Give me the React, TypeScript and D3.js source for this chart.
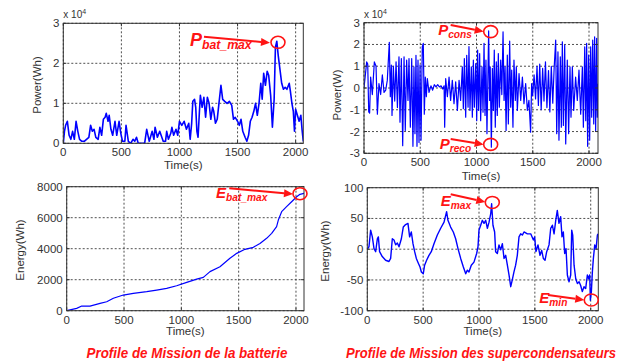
import * as d3 from "d3";

// Battery power (x 10^4 Wh) vs time (s)
const batPowerTime = [
  0, 10, 20, 35, 50, 65, 80, 95, 110, 125, 140, 160, 180, 200, 220, 235, 250, 265, 280, 300,
  315, 330, 345, 360, 370, 385, 395, 410, 425, 445, 460, 480, 495, 510, 530, 540, 560, 580, 600, 615,
  630, 645, 700, 718, 740, 765, 780, 790, 810, 830, 860, 880, 890, 905, 925, 935, 950, 970, 985, 1000,
  1020, 1040, 1060, 1080, 1092, 1105, 1115, 1130, 1140, 1150, 1160, 1172, 1180, 1195, 1210, 1225, 1240, 1255, 1270, 1285,
  1295, 1310, 1325, 1340, 1357, 1372, 1390, 1410, 1430, 1450, 1465, 1480, 1500, 1515, 1530, 1545, 1565, 1580, 1595, 1610,
  1625, 1640, 1655, 1670, 1685, 1700, 1712, 1725, 1740, 1755, 1768, 1785, 1800, 1815, 1826, 1838, 1850, 1865, 1880, 1895,
  1910, 1925, 1945, 1955, 1968, 1980, 1990, 2000, 2015, 2030, 2045, 2055, 2066,
];
const batPower = [
  0, 0.3, 0.45, 0.55, 0.2, 0.1, 0.3, 0.1, 0.55, 0.3, 0.1, 0.05, 0.05, 0.1, 0.15, 0.45, 0.3, 0.35, 0.15, 0.1,
  0.4, 0.2, 0.6, 0.65, 0.75, 0.55, 0.7, 0.35, 0.2, 0.55, 0.2, 0.55, 0.25, 0.05, 0.05, 0.45, 0.05, 0, 0.1, 0.05,
  0.15, 0, 0, 0.35, 0.05, 0.3, 0.1, 0.4, 0.15, 0.3, 0.05, 0.05, 0.3, 0.1, 0.25, 0.4, 0.2, 0.35, 0.2, 0.55,
  0.45, 0.55, 0.35, 0.5, 0.1, 0.5, 1.05, 1.1, 0.9, 0.3, 0.15, 0.8, 1.2, 0.9, 1.15, 0.65, 1.15, 1.0, 0.6, 0.9,
  0.8, 0.5, 0.6, 1.0, 1.45, 1.1, 1.05, 1.0, 1.05, 0.95, 0.6, 0.65, 0.55, 0.45, 0.6, 0.3, 0.15, 0.05, 0.2, 0.55,
  0.65, 0.8, 1.0, 0.7, 1.0, 1.5, 1.1, 1.75, 1.45, 1.8, 1.7, 1.2, 0.4, 1.1, 2.4, 2.55, 2.2, 1.85, 1.5, 1.35,
  1.4, 1.35, 1.5, 1.3, 1.0, 0.8, 0.3, 0.85, 0.7, 0.55, 0.7, 0.35, 0.05,
];

// Supercapacitor power (x 10^4 W) vs time (s)
const scPowerTime = [
  0, 10, 24, 33, 42, 50, 59, 74, 92, 107, 119, 133, 148, 163, 178, 193, 207, 225, 234, 243,
  249, 261, 273, 285, 297, 311, 320, 332, 344, 356, 367, 379, 391, 400, 412, 424, 435, 444, 453, 462,
  471, 480, 489, 498, 507, 518, 527, 536, 545, 554, 563, 578, 595, 610, 625, 640, 655, 670, 685, 700,
  712, 717, 726, 741, 756, 770, 785, 800, 815, 830, 845, 859, 874, 883, 892, 904, 913, 925, 933, 942,
  954, 963, 972, 981, 993, 1002, 1010, 1019, 1028, 1037, 1049, 1058, 1067, 1076, 1084, 1093, 1108, 1116, 1122, 1132,
  1141, 1150, 1158, 1167, 1176, 1185, 1194, 1203, 1215, 1225, 1236, 1245, 1254, 1263, 1274, 1283, 1295, 1304, 1313, 1324,
  1333, 1345, 1354, 1363, 1378, 1393, 1408, 1422, 1437, 1452, 1466, 1481, 1490, 1499, 1512, 1525, 1538, 1550, 1562, 1575,
  1588, 1600, 1613, 1626, 1640, 1652, 1665, 1678, 1690, 1704, 1713, 1724, 1733, 1745, 1754, 1763, 1772, 1784, 1793, 1807,
  1819, 1831, 1840, 1852, 1864, 1881, 1896, 1911, 1926, 1941, 1950, 1962, 1971, 1979, 1988, 1997, 2006, 2015, 2024, 2033,
  2042, 2050, 2059, 2068, 2074, 2080,
];
const scPower = [
  0, 0.5, 1.2, 1.1, -1.1, -1.15, 0.5, -0.3, 1.2, 1.0, -1.2, 0.2, -0.3, 0.6, -0.2, -0.1, 0.35, 2.1, -0.4, 1.05,
  -1.26, 1.0, -0.6, 1.2, -0.9, 1.43, -1.57, 1.35, -2.65, 1.43, -1.95, 1.28, -0.57, 1.35, -1.8, 1.35, -2.68, 0.97, -2.1, 1.5,
  -2.68, 1.28, -2.5, 1.05, -2.4, 1.9, 2.05, -1.2, 0.5, -0.4, 0.43, -0.2, 0.1, -0.1, 0.15, 0.05, 0.15, 0.05, 0.1, -0.05,
  0.1, -1.8, 0.43, -0.4, 0.5, -0.57, 0.35, -0.72, 0.28, -1.03, 0.35, -0.57, 0.97, -0.95, 1.35, -1.34, 1.5, -0.88, 1.9, -1.03,
  0.97, -1.34, 1.28, -0.88, 1.12, -1.5, 1.74, -1.03, 1.58, -1.5, 0.97, -1.11, 2.05, -1.26, 1.28, -2.1, 2.62, -0.57, 0.97, -2.72,
  0.9, -1.03, 1.74, -1.8, 1.2, -1.26, 1.58, -0.88, 1.28, -0.3, 2.58, -0.57, 0.97, -1.95, 1.51, -1.65, 2.15, -0.88, 0.82, -1.8,
  1.28, -0.57, 0.97, -1.03, 0.66, -0.57, 0.5, -0.72, 0.2, -1.03, -0.57, -2.03, 0.2, -0.34, 0.6, -0.5, 1.0, -0.8, 1.1, -1.0,
  0.9, -0.6, 1.2, -0.9, 0.8, -1.1, 1.0, -0.7, 0.9, 2.2, -2.1, 1.66, -2.4, 1.43, -1.8, 2.12, -1.72, 1.97, -2.57, 1.28,
  -2.1, 0.97, -1.34, 0.97, -1.03, 0.5, -0.57, 0.82, -1.2, 0.97, -1.8, 1.89, -1.5, 2.05, -2.68, 1.51, -2.4, 1.89, -1.34, 2.2,
  -1.65, 2.35, -1.95, 2.28, -1.34, 0.2,
];

// Battery energy (Wh) vs time (s)
const batEnergyTime = [
  0, 87, 131, 203, 291, 349, 407, 494, 581, 698, 785, 872, 959, 1047, 1134, 1192, 1250, 1337, 1424, 1483,
  1555, 1628, 1686, 1744, 1788, 1831, 1846, 1875, 1918, 1962, 2006, 2035, 2070,
];
const batEnergy = [
  0, 150, 300, 300, 470, 580, 800, 1010, 1120, 1230, 1330, 1440, 1610, 1830, 2040, 2150, 2520, 2840, 3380, 3700,
  3960, 4090, 4340, 4670, 4990, 5420, 5850, 6390, 6710, 7030, 7350, 7510, 7570,
];

// Supercapacitor energy (Wh) vs time (s)
const scEnergyTime = [
  0, 15, 30, 45, 60, 75, 90, 99, 110, 134, 164, 194, 209, 224, 239, 254, 269, 284, 305, 322,
  343, 364, 379, 394, 409, 424, 439, 455, 472, 484, 501, 513, 531, 552, 573, 597, 627, 657, 687, 710,
  722, 746, 770, 791, 812, 836, 860, 881, 896, 910, 931, 955, 979, 991, 1000, 1015, 1030, 1045, 1060, 1075,
  1090, 1105, 1113, 1125, 1140, 1149, 1164, 1179, 1194, 1209, 1224, 1239, 1254, 1269, 1284, 1298, 1313, 1328, 1343, 1358,
  1373, 1388, 1403, 1433, 1463, 1487, 1498, 1510, 1528, 1546, 1561, 1576, 1591, 1606, 1627, 1642, 1657, 1672, 1687, 1701,
  1716, 1731, 1743, 1755, 1767, 1779, 1791, 1806, 1821, 1830, 1839, 1851, 1866, 1881, 1896, 1910, 1925, 1940, 1955, 1970,
  1982, 1991, 1997, 2006, 2015, 2024, 2036, 2048, 2060, 2066,
];
const scEnergy = [
  0, 4, 31, 20, 1, -4, 17, 20, -4, -12, -18, -20, -15, 17, 15, 7, 10, 4, 17, 36,
  40, 42, 20, 28, 9, -4, -15, -22, -29, -37, -40, -26, -18, -10, -4, 9, 23, 34, 44, 61,
  47, 36, 28, 17, 1, -15, -29, -40, -34, -37, -26, -21, -7, 4, 31, 39, 47, 42, 47, 34,
  44, 58, 74, 39, 28, -4, -7, 7, -1, 9, -15, -10, -26, -42, -61, -50, -37, -26, -10, 20,
  25, 23, 28, 25, 25, 15, 20, -4, 7, -10, -2, -15, -18, -4, 7, 34, 39, 25, 47, 63,
  42, 53, 20, 28, -7, 1, -42, -53, -42, 31, 23, -26, -48, -56, -53, -59, -69, -61, -64, -42,
  -48, -42, -83, -69, -37, -15, 7, 1, 23, 25,
];

const xTicks = [0, 500, 1000, 1500, 2000];
const batPowerTicks = [0, 1, 2, 3];
const scPowerTicks = [-3, -2, -1, 0, 1, 2, 3];
const batEnergyTicks = [0, 2000, 4000, 6000, 8000];
const scEnergyTicks = [-100, -50, 0, 50, 100];

// annotated points: [time, value]
const pBatMax = [1848, 2.525];
const pCons = [1126, 2.59];
const pReco = [1126, -2.59];
const eBatMax = [2035, 7548];
const eMax = [1119, 76];
const eMin = [2005, -82.6];

const FONT = "'Liberation Sans', Arial, sans-serif";
const RED = "#ff1414";

type Box = { left: number; top: number; right: number; bottom: number };

type Note = {
  pt: number[];
  main: string;
  sub: string;
  size: number;
  tx: number;
  ty: number;
  ax: number;
  ay: number;
  bx: number;
  by: number;
};

type PanelProps = {
  box: Box;
  xMax: number;
  yTicks: number[];
  times: number[];
  values: number[];
  lineWidth: number;
  yLabel: string;
  yLabelX: number;
  yLabelY: number;
  timeY: number;
  exponent?: boolean;
  notes: Note[];
};

const Panel = ({ box, xMax, yTicks, times, values, lineWidth, yLabel, yLabelX, yLabelY, timeY, exponent, notes }: PanelProps) => {
  const x = d3.scaleLinear().domain([0, xMax]).range([box.left, box.right]);
  const y = d3
    .scaleLinear()
    .domain([yTicks[0], yTicks[yTicks.length - 1]])
    .range([box.bottom, box.top]);
  const line = d3
    .line<number>()
    .x((_, i) => x(times[i]))
    .y((d) => y(d));
  const clipId = `clip-${box.left}-${box.top}`;

  return (
    <g>
      <clipPath id={clipId}>
        <rect x={box.left} y={box.top} width={box.right - box.left} height={box.bottom - box.top} />
      </clipPath>
      {/* grid */}
      {xTicks.map((t) => (
        <line key={"gx" + t} x1={x(t)} x2={x(t)} y1={box.top} y2={box.bottom} stroke="#222" strokeWidth={0.8} strokeDasharray="2,2" />
      ))}
      {yTicks.map((t) => (
        <line key={"gy" + t} x1={box.left} x2={box.right} y1={y(t)} y2={y(t)} stroke="#222" strokeWidth={0.8} strokeDasharray="2,2" />
      ))}
      <path d={line(values) ?? ""} fill="none" stroke="#0000ff" strokeWidth={lineWidth} strokeLinejoin="round" clipPath={`url(#${clipId})`} />
      <rect x={box.left} y={box.top} width={box.right - box.left} height={box.bottom - box.top} fill="none" stroke="#333" strokeWidth={1} />
      {/* inward ticks */}
      {xTicks.map((t) => (
        <g key={"tx" + t}>
          <line x1={x(t)} x2={x(t)} y1={box.bottom} y2={box.bottom - 3} stroke="#333" />
          <line x1={x(t)} x2={x(t)} y1={box.top} y2={box.top + 3} stroke="#333" />
          <text x={x(t)} y={box.bottom + 13} textAnchor="middle" fontSize={11.5} fill="#333" fontFamily={FONT}>
            {t}
          </text>
        </g>
      ))}
      {yTicks.map((t) => (
        <g key={"ty" + t}>
          <line x1={box.left} x2={box.left + 3} y1={y(t)} y2={y(t)} stroke="#333" />
          <line x1={box.right} x2={box.right - 3} y1={y(t)} y2={y(t)} stroke="#333" />
          <text x={box.left - 4} y={y(t) + 4} textAnchor="end" fontSize={11.5} fill="#333" fontFamily={FONT}>
            {t}
          </text>
        </g>
      ))}
      {exponent && (
        <text x={box.left} y={box.top - 5} fontSize={10} fill="#333" fontFamily={FONT}>
          x 10
          <tspan fontSize={7} dy={-4}>
            4
          </tspan>
        </text>
      )}
      <text x={(box.left + box.right) / 2} y={timeY} textAnchor="middle" fontSize={11.5} fill="#333" fontFamily={FONT}>
        Time(s)
      </text>
      <text
        transform={`translate(${yLabelX},${yLabelY}) rotate(-90)`}
        textAnchor="middle"
        fontSize={11.5}
        fill="#333"
        fontFamily={FONT}
        dominantBaseline="middle"
      >
        {yLabel}
      </text>
      {notes.map((n) => {
        const cx = x(n.pt[0]);
        const cy = y(n.pt[1]);
        const x1 = cx + n.ax;
        const y1 = cy + n.ay;
        const x2 = cx + n.bx;
        const y2 = cy + n.by;
        const ang = Math.atan2(y2 - y1, x2 - x1);
        const hl = 9;
        const hw = 4;
        const bx = x2 - hl * Math.cos(ang);
        const by = y2 - hl * Math.sin(ang);
        const head = `M${x2},${y2} L${bx - hw * Math.sin(ang)},${by + hw * Math.cos(ang)} L${bx + hw * Math.sin(ang)},${by - hw * Math.cos(ang)} Z`;
        return (
          <g key={n.main + n.sub}>
            <ellipse cx={cx} cy={cy} rx={7} ry={6} fill="none" stroke={RED} strokeWidth={1.6} />
            <line x1={x1} y1={y1} x2={bx} y2={by} stroke={RED} strokeWidth={2} />
            <path d={head} fill={RED} />
            <text x={cx + n.tx} y={cy + n.ty} fill={RED} fontFamily={FONT} fontWeight="bold" fontStyle="italic" fontSize={n.size}>
              {n.main}
              <tspan fontSize={n.size * 0.68} dy={n.size * 0.2}>
                {n.sub}
              </tspan>
            </text>
          </g>
        );
      })}
    </g>
  );
};

export default function App() {
  return (
    <svg width={634} height={364} style={{ position: "absolute", left: 0, top: 0, background: "#fff" }}>
      <rect width={634} height={364} fill="#fff" />
      <Panel
        box={{ left: 63.3, top: 23.3, right: 303.3, bottom: 143.3 }}
        xMax={2066}
        yTicks={batPowerTicks}
        times={batPowerTime}
        values={batPower}
        lineWidth={1.6}
        yLabel="Power(Wh)"
        yLabelX={38}
        yLabelY={85}
        timeY={169}
        exponent
        notes={[{ pt: pBatMax, main: "P", sub: "bat_max", size: 18, tx: -88, ty: 3.5, ax: -74, ay: -5.5, bx: -8, by: 0.5 }]}
      />
      <Panel
        box={{ left: 364, top: 22.7, right: 598, bottom: 153.3 }}
        xMax={2080}
        yTicks={scPowerTicks}
        times={scPowerTime}
        values={scPower}
        lineWidth={1.2}
        yLabel="Power(W)"
        yLabelX={338}
        yLabelY={95}
        timeY={180}
        exponent
        notes={[
          { pt: pCons, main: "P", sub: "cons", size: 15, tx: -52.5, ty: 3.3, ax: -40, ay: -6.7, bx: -7, by: 0 },
          { pt: pReco, main: "P", sub: "reco", size: 15, tx: -51, ty: 5, ax: -40, ay: -5.3, bx: -7, by: 0 },
        ]}
      />
      <Panel
        box={{ left: 66.7, top: 186.7, right: 304, bottom: 310.7 }}
        xMax={2070}
        yTicks={batEnergyTicks}
        times={batEnergyTime}
        values={batEnergy}
        lineWidth={1.2}
        yLabel="Energy(Wh)"
        yLabelX={21}
        yLabelY={250}
        timeY={335}
        notes={[{ pt: eBatMax, main: "E", sub: "bat_max", size: 15, tx: -84, ty: 4.6, ax: -70.7, ay: -5.4, bx: -7, by: 0.4 }]}
      />
      <Panel
        box={{ left: 367.3, top: 187.7, right: 598.3, bottom: 310.7 }}
        xMax={2068}
        yTicks={scEnergyTicks}
        times={scEnergyTime}
        values={scEnergy}
        lineWidth={1.4}
        yLabel="Energy(Wh)"
        yLabelX={326}
        yLabelY={251}
        timeY={335}
        notes={[
          { pt: eMax, main: "E", sub: "max", size: 15, tx: -51.6, ty: 3.7, ax: -41.6, ay: -8.3, bx: -7, by: -0.5 },
          { pt: eMin, main: "E", sub: "min", size: 15, tx: -52, ty: 3.3, ax: -43.3, ay: -5, bx: -7, by: 0 },
        ]}
      />
      <text x={187} y={358} textAnchor="middle" fill={RED} fontFamily={FONT} fontWeight="bold" fontStyle="italic" fontSize={14} textLength={201} lengthAdjust="spacingAndGlyphs">
        Profile de Mission de la batterie
      </text>
      <text x={481} y={358} textAnchor="middle" fill={RED} fontFamily={FONT} fontWeight="bold" fontStyle="italic" fontSize={14} textLength={270} lengthAdjust="spacingAndGlyphs">
        Profile de Mission des supercondensateurs
      </text>
    </svg>
  );
}
